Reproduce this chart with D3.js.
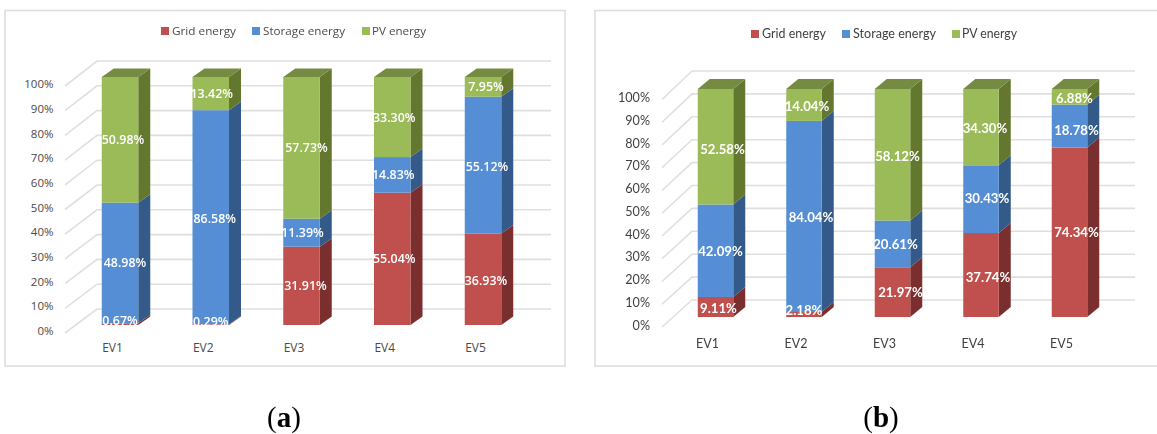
<!DOCTYPE html>
<html>
<head>
<meta charset="utf-8">
<script src="https://cdn.jsdelivr.net/npm/d3@7/dist/d3.min.js"></script>
<style>
html,body{margin:0;padding:0;background:#fff;overflow:hidden}
svg{display:block;filter:blur(0.45px)}
</style>
</head>
<body>
<svg id="chart" width="1157" height="434"></svg>
<script>
const categories = ["EV1","EV2","EV3","EV4","EV5"];
const seriesNames = ["Grid energy","Storage energy","PV energy"];
const tickValues = [0,10,20,30,40,50,60,70,80,90,100];

const gridA    = [0.67,0.29,31.91,55.04,36.93];
const storageA = [48.98,86.58,11.39,14.83,55.12];
const pvA      = [50.98,13.42,57.73,33.30,7.95];

const gridB    = [9.11,2.18,21.97,37.74,74.34];
const storageB = [42.09,84.04,20.61,30.43,18.78];
const pvB      = [52.58,14.04,58.12,34.30,6.88];

const frontColors = ["#C0504D","#558ED5","#9BBB59"];
const sideColors  = ["#7A2F2E","#335A88","#64772F"];
const topColor = "#748B41";

// label nudges, in pixels: [series][category]
const nudgeA = {
  dx:[[0,0,4,2,3],[5,4,1,1,4],[3,1,5,2,3]],
  dy:[[-4,-3,0,0,1],[0,1,0,0,1],[0,0,0,1,0]]
};
const nudgeB = {
  dx:[[3,0,8,7,7],[5,7,3,6,7],[7,3,5,4,5]],
  dy:[[1,-4,0,2,0],[0,1,0,-1,4],[2,1,1,1,1]]
};

const panelA = {
  values:[gridA,storageA,pvA], nudge:nudgeA,
  frame:[5,10.5,560,355.5],
  centers:[120,483], barW:36.5, depthX:12, depthY:8.5,
  barY:[325,77], wallY:[309,61], tickY:[331,84],
  wallX:[97,551], floorX:65, tickX:53.5, catY:348, catDx:-8,
  font:"'Open Sans'", tickSize:11.5, catSize:12, legendSize:11.5, labelSize:12.4, labelWeight:600, tickColor:"#4A4A4A",
  legendY:31, swatch:8,
  legendSw:[161,252,362], legendTx:[172,263,372], legendW:[64,82,54]
};
const panelB = {
  values:[gridB,storageB,pvB], nudge:nudgeB,
  frame:[595,10.5,570,355.5],
  centers:[715.5,1069.5], barW:35.5, depthX:12, depthY:10,
  barY:[317,89], wallY:[300,71], tickY:[325,97.5],
  wallX:[692,1135], floorX:662, tickX:650, catY:344, catDx:-8.5,
  font:"Lato", tickSize:12.6, catSize:12.5, legendSize:13, labelSize:13.2, labelWeight:700, tickColor:"#404040",
  legendY:34, swatch:8,
  legendSw:[751,842,952], legendTx:[762,853,962], legendW:[64,83,55]
};

const svg = d3.select("#chart");

function drawPanel(p){
  const g = svg.append("g");
  g.append("rect").attr("x",p.frame[0]).attr("y",p.frame[1]).attr("width",p.frame[2]).attr("height",p.frame[3])
    .attr("fill","#fff").attr("stroke","#DCDCDC").attr("stroke-width",1.5);

  const wallScale = d3.scaleLinear().domain([0,100]).range(p.wallY);
  const tickScale = d3.scaleLinear().domain([0,100]).range(p.tickY);
  const barScale  = d3.scaleLinear().domain([0,1]).range(p.barY);
  const x = d3.scalePoint().domain(categories).range(p.centers);

  // back wall grid + floor diagonals
  g.append("g").selectAll("path").data(tickValues).join("path")
    .attr("d",v=>{
      const yb = wallScale(v), yf = tickScale(v)+2;
      return `M${p.floorX},${yf}L${p.wallX[0]},${yb}L${p.wallX[1]},${yb}`;
    })
    .attr("fill","none").attr("stroke","#DFDFDF").attr("stroke-width",1.6);

  // y axis
  const yAxis = g.append("g").attr("transform",`translate(${p.tickX},0)`)
    .call(d3.axisLeft(tickScale).tickValues(tickValues).tickSize(0).tickPadding(0).tickFormat(d=>d+"%"));
  yAxis.select(".domain").remove();
  yAxis.selectAll("text").attr("font-family",p.font).attr("font-size",p.tickSize).attr("fill",p.tickColor);

  // x axis labels
  const xAxis = g.append("g").attr("transform",`translate(${p.catDx},${p.catY})`)
    .call(d3.axisBottom(x).tickSize(0).tickPadding(0));
  xAxis.select(".domain").remove();
  xAxis.selectAll("text").attr("font-family",p.font).attr("font-size",p.catSize).attr("fill",p.tickColor)
    .attr("dy","0.32em").attr("y",0);

  // stacks
  const rows = categories.map((c,i)=>{
    const r = {cat:c};
    seriesNames.forEach((s,k)=>{ r[s]=p.values[k][i]; });
    return r;
  });
  const stacked = d3.stack().keys(seriesNames).offset(d3.stackOffsetExpand)(rows);
  const hw = p.barW/2;

  const barLayer = g.append("g");
  stacked.forEach((layer,k)=>{
    const lg = barLayer.append("g");
    lg.selectAll("path.side").data(layer).join("path").attr("class","side")
      .attr("d",d=>{
        const x1 = x(d.data.cat)+hw, y0 = barScale(d[0]), y1 = barScale(d[1]);
        return `M${x1},${y0}L${x1},${y1}L${x1+p.depthX},${y1-p.depthY}L${x1+p.depthX},${y0-p.depthY}Z`;
      }).attr("fill",sideColors[k]);
    lg.selectAll("rect").data(layer).join("rect")
      .attr("x",d=>x(d.data.cat)-hw).attr("width",p.barW)
      .attr("y",d=>barScale(d[1])).attr("height",d=>barScale(d[0])-barScale(d[1]))
      .attr("fill",frontColors[k]);
  });
  // top faces
  barLayer.append("g").selectAll("path").data(stacked[2]).join("path")
    .attr("d",d=>{
      const xl = x(d.data.cat)-hw, xr = xl+p.barW, yt = barScale(d[1]);
      return `M${xl},${yt}L${xr},${yt}L${xr+p.depthX},${yt-p.depthY}L${xl+p.depthX},${yt-p.depthY}Z`;
    }).attr("fill",topColor);

  // data labels
  const labelLayer = g.append("g");
  stacked.forEach((layer,k)=>{
    labelLayer.append("g").selectAll("text").data(layer).join("text")
      .attr("x",(d,i)=>x(d.data.cat)+p.nudge.dx[k][i])
      .attr("y",(d,i)=>barScale((d[0]+d[1])/2)+p.nudge.dy[k][i])
      .attr("dy","0.36em").attr("text-anchor","middle")
      .attr("font-family",p.font).attr("font-size",p.labelSize).attr("font-weight",p.labelWeight)
      .attr("fill","#fff")
      .text(d=>d.data[seriesNames[k]].toFixed(2)+"%");
  });

  // legend
  const lg = g.append("g");
  seriesNames.forEach((s,k)=>{
    lg.append("rect").attr("x",p.legendSw[k]).attr("y",p.legendY-p.swatch/2)
      .attr("width",p.swatch).attr("height",p.swatch).attr("fill",frontColors[k]);
    lg.append("text").attr("x",p.legendTx[k]).attr("y",p.legendY).attr("dy","0.34em")
      .attr("font-family",p.font).attr("font-size",p.legendSize).attr("fill",p.tickColor)
      .attr("textLength",p.legendW[k]).attr("lengthAdjust","spacingAndGlyphs")
      .text(s);
  });
}

drawPanel(panelA);
drawPanel(panelB);

// captions
const captions = [{t:"a",x:284},{t:"b",x:881}];
const cap = svg.append("g").selectAll("text").data(captions).join("text")
  .attr("x",d=>d.x).attr("y",427).attr("text-anchor","middle")
  .attr("font-family","'Liberation Serif'").attr("font-size",29).attr("fill","#000");
cap.append("tspan").text("(");
cap.append("tspan").attr("font-weight","bold").text(d=>d.t);
cap.append("tspan").text(")");
</script>
</body>
</html>
